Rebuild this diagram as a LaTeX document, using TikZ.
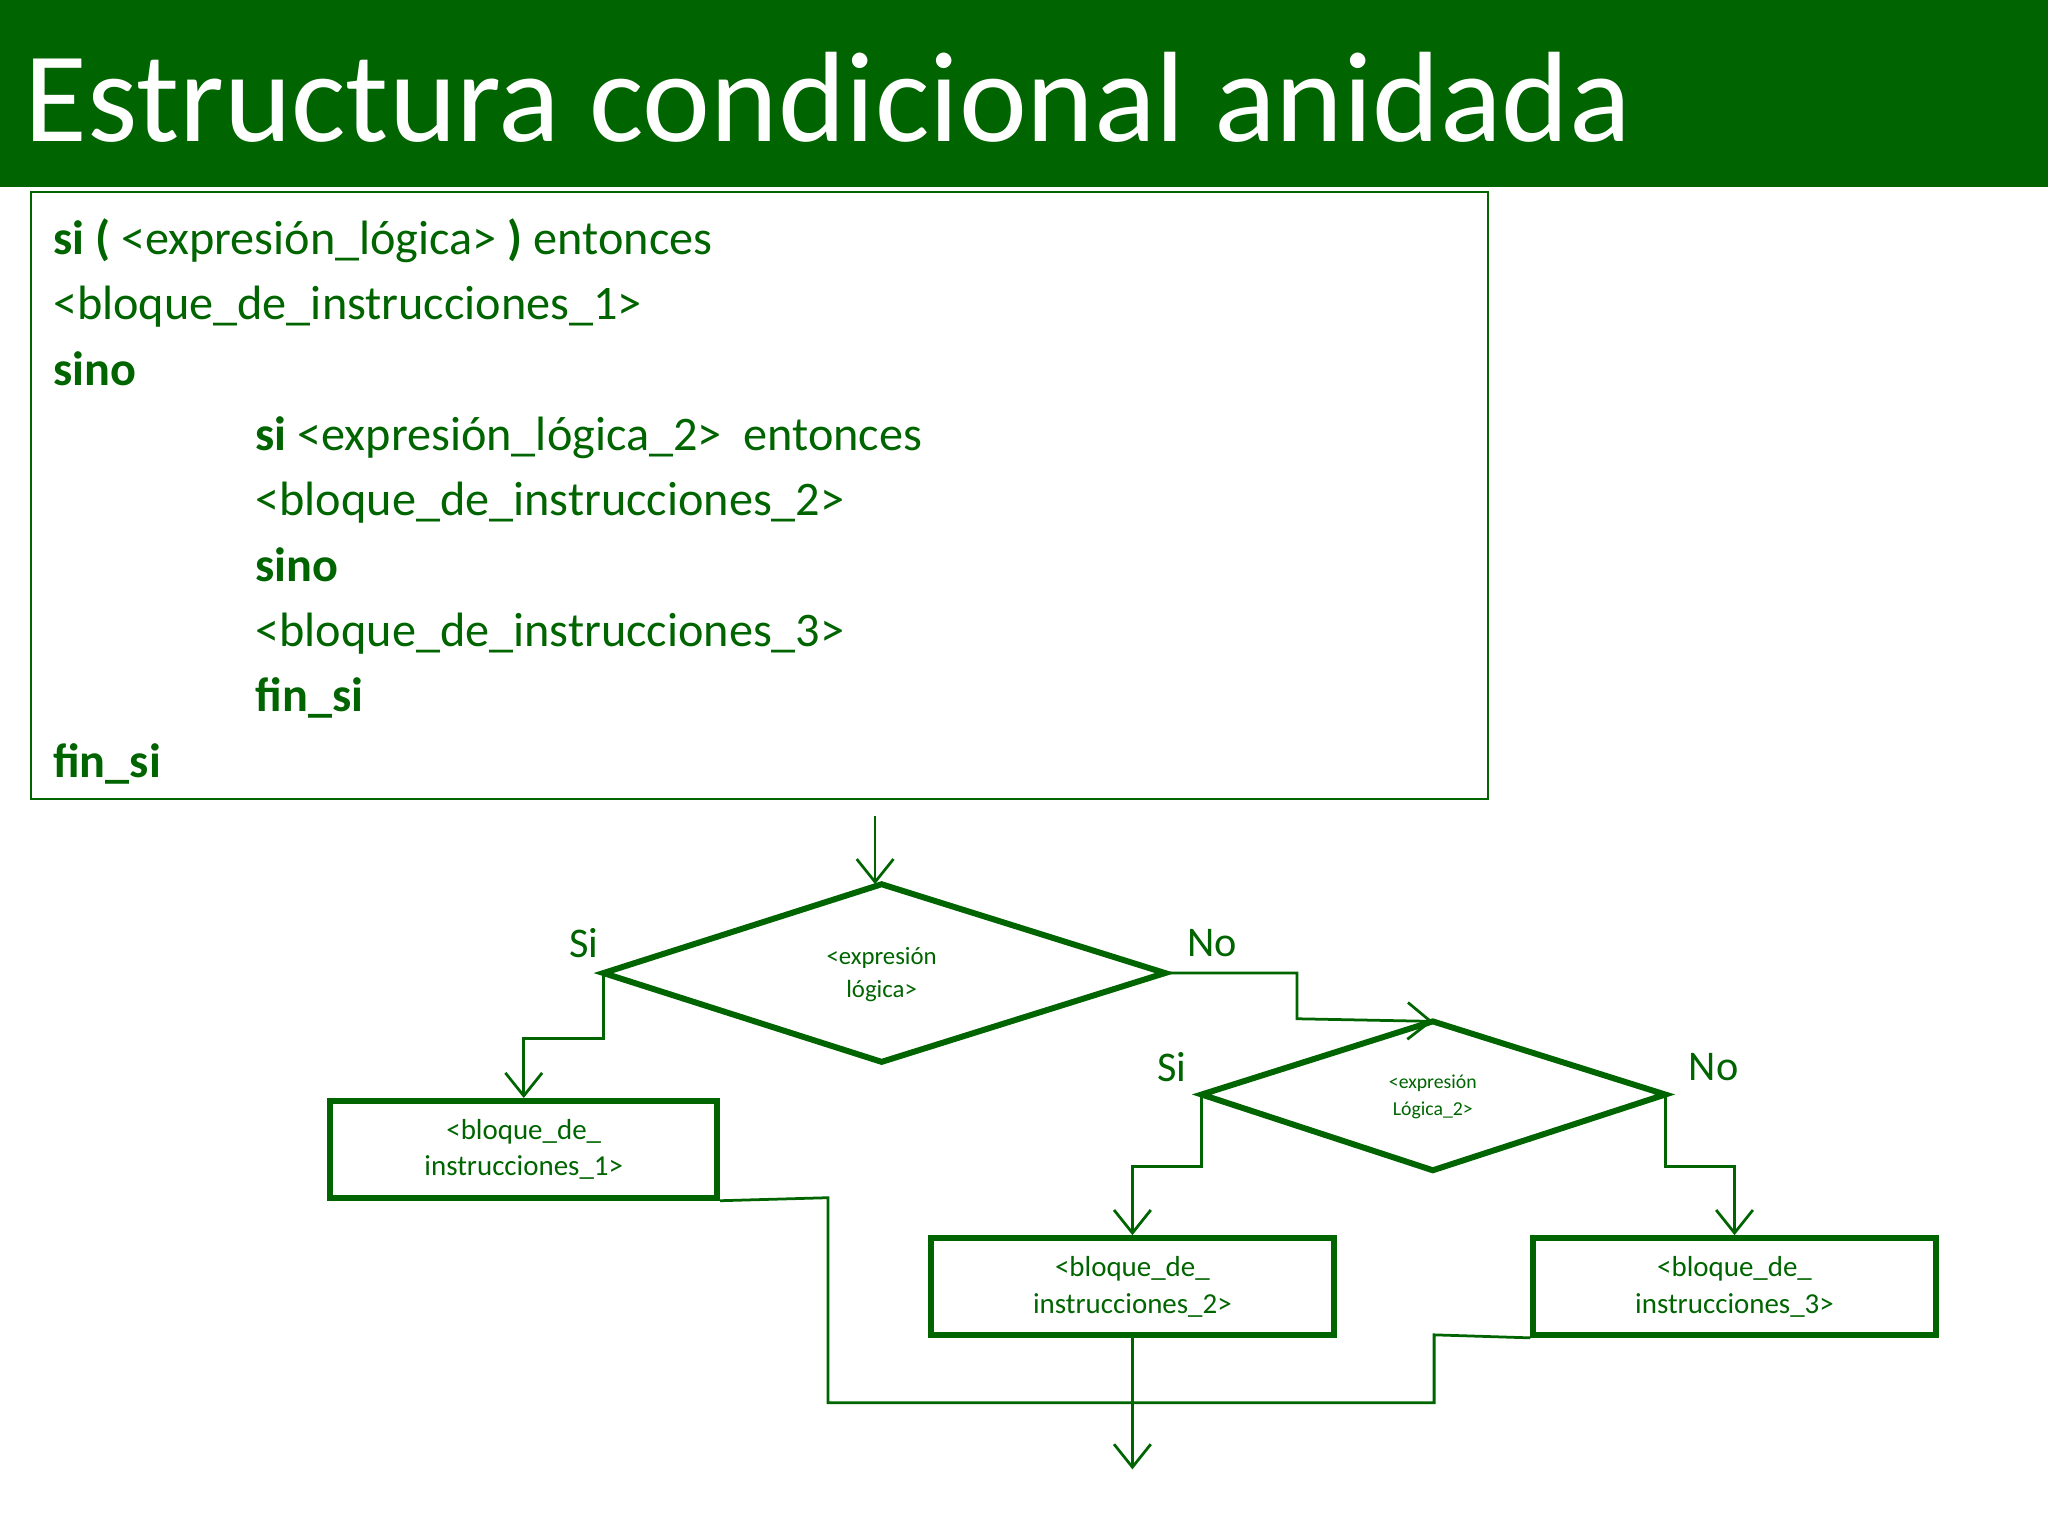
\documentclass[tikz,border=0pt]{standalone}
\usepackage{fontspec}
\setmainfont{Carlito}
\usetikzlibrary{arrows.meta}
\definecolor{dg}{RGB}{0,100,0}
\begin{document}
\begin{tikzpicture}[x=0.01cm,y=-0.01cm,
  ln/.style={draw=dg,line width=0.6pt},
  ar/.style={ln,-{Straight Barb[length=5pt,width=8pt]}},
  blk/.style={draw=dg,line width=1.3pt,minimum width=2.96cm,minimum height=0.74cm,text=dg,align=center,font=\fontsize{6.3pt}{8pt}\selectfont},
  code/.style={anchor=base west,text=dg,inner sep=0,font=\fontsize{10.5pt}{12pt}\selectfont},
  lab/.style={text=dg,font=\fontsize{9.2pt}{11pt}\selectfont}]
\useasboundingbox (0,0) rectangle (1568,1176);
\fill[dg] (0,0) rectangle (1568,143);
\node[anchor=base west,text=white,inner sep=0,font=\fontsize{28pt}{30pt}\selectfont] (title) at (18,108) {Estructura condicional anidada};
\draw[dg,line width=0.5pt] (24,147) rectangle (1139,612);
\node[code] (c1) at (40,195) {\textbf{si (} <expresión\_lógica> \textbf{)} entonces};
\node[code] (c2) at (40,245) {<bloque\_de\_instrucciones\_1>};
\node[code] (c3) at (40,295) {\textbf{sino}};
\node[code] (c4) at (195,345) {\textbf{si} <expresión\_lógica\_2>\ \ entonces};
\node[code] (c5) at (195,395) {<bloque\_de\_instrucciones\_2>};
\node[code] (c6) at (195,445) {\textbf{sino}};
\node[code] (c7) at (195,495) {<bloque\_de\_instrucciones\_3>};
\node[code] (c8) at (195,545) {\textbf{fin\_si}};
\node[code] (c9) at (40,595) {\textbf{fin\_si}};
% diamond 1
\coordinate (d1t) at (675,677); \coordinate (d1l) at (462,745);
\coordinate (d1r) at (892,745); \coordinate (d1b) at (675,813);
\draw[dg,line width=1.3pt] (d1t)--(d1r)--(d1b)--(d1l)--cycle;
\node[text=dg,align=center,font=\fontsize{5.4pt}{7.2pt}\selectfont] (d1) at (675,746) {<expresión\\lógica>};
\coordinate (start) at (670,625);
\draw[ar] (start) -- (670,677);
\node[lab] (si1) at (447,722) {Si};
\node[lab] (no1) at (928,722) {No};
% diamond 2
\coordinate (d2t) at (1097,782); \coordinate (d2l) at (920,838);
\coordinate (d2r) at (1275,838); \coordinate (d2b) at (1097,896);
\draw[dg,line width=1.3pt] (d2t)--(d2r)--(d2b)--(d2l)--cycle;
\node[text=dg,align=center,font=\fontsize{4.3pt}{5.8pt}\selectfont] (d2) at (1097,840) {<expresión\\Lógica\_2>};
\node[lab] (si2) at (897,817) {Si};
\node[lab] (no2) at (1312,817) {No};
% boxes
\node[blk] (b1) at (401,880) {<bloque\_de\_\\instrucciones\_1>};
\node[blk,minimum width=3.08cm] (b2) at (867,985) {<bloque\_de\_\\instrucciones\_2>};
\node[blk,minimum width=3.08cm] (b3) at (1328,985) {<bloque\_de\_\\instrucciones\_3>};
% connectors
\draw[ar] (d1l) -- (462,795) -- (401,795) -- (b1.north);
\draw[ar] (d1r) -- (993,745) -- (993,780) -- (d2t);
\draw[ar] (d2l) -- (920,893) -- (867,893) -- (b2.north);
\draw[ar] (d2r) -- (1275,893) -- (1328,893) -- (b3.north);
\coordinate (endp) at (867,1125);
\draw[ln] (b1.south east) -- (634,917) -- (634,1074) -- (1098,1074) -- (1098,1022) -- (b3.south west);
\draw[ar] (b2.south) -- (endp);
\end{tikzpicture}
\end{document}
